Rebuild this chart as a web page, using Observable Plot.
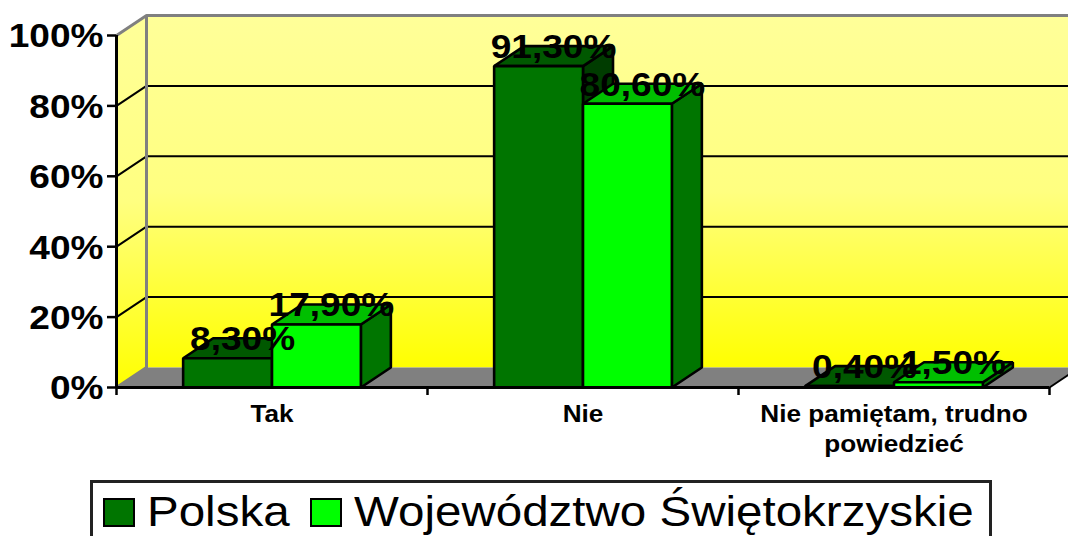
<!DOCTYPE html>
<html><head><meta charset="utf-8">
<script src="https://cdn.jsdelivr.net/npm/d3@7"></script>
<script src="https://cdn.jsdelivr.net/npm/@observablehq/plot@0.6"></script>
<style>
html,body{margin:0;padding:0;background:#fff;overflow:hidden;width:1068px;height:536px}
#chart{position:relative;width:1068px;height:536px;overflow:hidden;font-family:"Liberation Sans",Arial,sans-serif}
#legend{position:absolute;left:90px;top:480px;width:902px;height:60px;border:3px solid #222;box-sizing:border-box;background:#fff}
#legend .sw{position:absolute;top:15px;width:28px;height:25px;border:2px solid #000}
#legend .lb{position:absolute;top:4px;font-size:43px;line-height:48px;transform-origin:0 50%;transform:scaleX(1.105);white-space:nowrap;color:#000}
</style></head><body><div id="chart"></div>
<script>
const categories = ["Tak", "Nie", "Nie pamiętam, trudno\npowiedzieć"];
const seriesNames = ["Polska", "Województwo Świętokrzyskie"];
const polska = [8.3, 91.3, 0.4];
const swietokrzyskie = [17.9, 80.6, 1.5];
const valueLabels = [["8,30%", "91,30%", "0,40%"], ["17,90%", "80,60%", "1,50%"]];
const yTicks = [0, 20, 40, 60, 80, 100];
const frontColors = ["#007500", "#00ff00"];
const topColors = ["#005800", "#00bf00"];
const sideColors = ["#003c00", "#007500"];

const W = 1068, H = 480;
const depthX = 30 / 311, depthY = 20 / 3.52;   // oblique depth in data units
const barW = 1 / 3.5, gap = 0.75 / 3.5;
const stretch = 1.09;

const poly = (pts, fill, stroke, strokeWidth) =>
  Plot.line(pts.map(([x, y]) => ({x, y})), {x: "x", y: "y", fill, stroke, strokeWidth, curve: "linear-closed", strokeLinejoin: "miter"});
const path = (pts, stroke, strokeWidth) =>
  Plot.line(pts.map(([x, y]) => ({x, y})), {x: "x", y: "y", stroke, strokeWidth, strokeLinecap: "butt"});

const defs = () => {
  const ns = "http://www.w3.org/2000/svg";
  const d = document.createElementNS(ns, "defs");
  const g = document.createElementNS(ns, "linearGradient");
  g.setAttribute("id", "wall"); g.setAttribute("x1", 0); g.setAttribute("y1", 0); g.setAttribute("x2", 0); g.setAttribute("y2", 1);
  [[0, "#ffff99"], [0.5, "#ffff80"], [1, "#ffff00"]].forEach(([o, c]) => {
    const s = document.createElementNS(ns, "stop");
    s.setAttribute("offset", o); s.setAttribute("stop-color", c); g.appendChild(s);
  });
  d.appendChild(g);
  return d;
};

const xMax = categories.length;
const marks = [
  defs,
  poly([[0, 0], [depthX, depthY], [depthX, 100 + depthY], [0, 100]], "url(#wall)", "none", 0),
  poly([[depthX, depthY], [xMax + depthX, depthY], [xMax + depthX, 100 + depthY], [depthX, 100 + depthY]], "url(#wall)", "none", 0),
  poly([[0, 0], [xMax, 0], [xMax + depthX, depthY], [depthX, depthY]], "#808080", "none", 0),
  ...yTicks.filter(t => t > 0 && t < 100).map(t => path([[0, t], [depthX, t + depthY], [xMax + depthX, t + depthY]], "#000", 2)),
  path([[0, 100], [depthX, 100 + depthY], [xMax + depthX, 100 + depthY]], "#808080", 3),
  path([[depthX, 100 + depthY], [depthX, depthY], [0, 0]], "#808080", 3),
  path([[xMax, 0], [xMax + depthX, depthY]], "#000", 2),
];

categories.forEach((c, i) => {
  [polska[i], swietokrzyskie[i]].forEach((v, s) => {
    const x0 = i + gap + s * barW, x1 = x0 + barW;
    marks.push(
      poly([[x1, 0], [x1 + depthX, depthY], [x1 + depthX, v + depthY], [x1, v]], sideColors[s], "#000", 2.6),
      poly([[x0, v], [x1, v], [x1 + depthX, v + depthY], [x0 + depthX, v + depthY]], topColors[s], "#000", 2.6),
      poly([[x0, 0], [x1, 0], [x1, v], [x0, v]], frontColors[s], "#000", 2.6)
    );
  });
});

marks.push(
  Plot.ruleY([0], {x1: 0, x2: xMax, stroke: "#000", strokeWidth: 3}),
  Plot.ruleX([0], {y1: 0, y2: 100, stroke: "#000", strokeWidth: 3}),
  Plot.axisY({ticks: yTicks, tickFormat: () => "", tickSize: 9, strokeWidth: 2.5, stroke: "#000", label: null}),
  Plot.axisY({ticks: yTicks, tickFormat: d => d + "%", tickSize: 0, tickPadding: 13, dy: 1, fill: "#000", fontSize: 34, fontWeight: "bold", fontFamily: "Liberation Sans", label: null}),
  Plot.axisX({ticks: d3.range(0, xMax + 1), tickFormat: () => "", tickSize: 8, strokeWidth: 2.5, stroke: "#000", label: null})
);

const catRows = categories.flatMap((c, i) => c.split("\n").map((t, k) => ({t, x: i + 0.5, k})));
[0, 1].forEach(k => marks.push(
  Plot.text(catRows.filter(r => r.k === k), {x: "x", y: () => 0, text: "t", dy: 27 + k * 30, fontSize: 24, fontWeight: "bold", fill: "#000", fontFamily: "Liberation Sans"})
));

const valueRows = [polska, swietokrzyskie].flatMap((vals, s) =>
  vals.map((v, i) => ({x: i + gap + s * barW + barW / 2 + depthX / 2, y: v + depthY, t: valueLabels[s][i]})));
marks.push(Plot.text(valueRows, {x: "x", y: "y", text: "t", dy: 1, fontSize: 34, fontWeight: "bold", fill: "#000", fontFamily: "Liberation Sans"}));

const chart = Plot.plot({
  width: W, height: H,
  marginLeft: 116, marginRight: 19, marginTop: 35, marginBottom: 93,
  style: {overflow: "hidden", background: "transparent", fontFamily: "Liberation Sans"},
  x: {domain: [0, xMax], range: [116, 1049], axis: null},
  y: {domain: [0, 100], range: [387, 35], axis: null},
  marks
});

const host = document.getElementById("chart");
host.appendChild(chart);
chart.querySelectorAll("text").forEach(t => {
  const len = t.getComputedTextLength();
  if (len > 0) {
    t.setAttribute("textLength", len * stretch);
    t.setAttribute("lengthAdjust", "spacingAndGlyphs");
  }
});

const legend = document.createElement("div");
legend.id = "legend";
const swLeft = [10, 217], lbLeft = [54, 261];
seriesNames.forEach((n, i) => {
  const sw = document.createElement("div");
  sw.className = "sw"; sw.style.left = swLeft[i] + "px"; sw.style.background = frontColors[i];
  const lb = document.createElement("div");
  lb.className = "lb"; lb.style.left = lbLeft[i] + "px"; lb.textContent = n;
  legend.append(sw, lb);
});
host.appendChild(legend);
</script></body></html>
